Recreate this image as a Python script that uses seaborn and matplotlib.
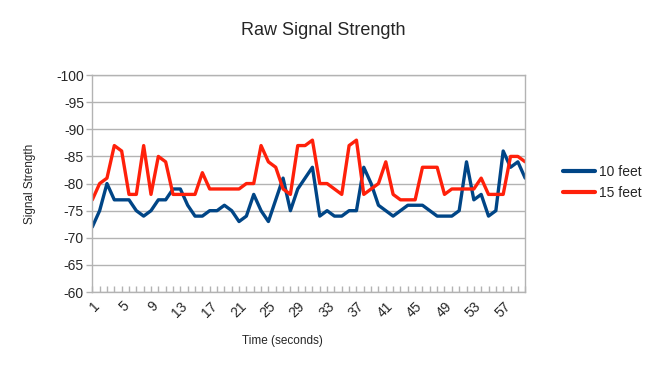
import matplotlib
matplotlib.use("Agg")
import matplotlib.pyplot as plt
import seaborn as sns
import pandas as pd
import numpy as np

time_s = list(range(1, 61))
feet10 = [-72, -75, -80, -77, -77, -77, -75, -74, -75, -77,
          -77, -79, -79, -76, -74, -74, -75, -75, -76, -75,
          -73, -74, -78, -75, -73, -77, -81, -75, -79, -81,
          -83, -74, -75, -74, -74, -75, -75, -83, -80, -76,
          -75, -74, -75, -76, -76, -76, -75, -74, -74, -74,
          -75, -84, -77, -78, -74, -75, -86, -83, -84, -81]
feet15 = [-77, -80, -81, -87, -86, -78, -78, -87, -78, -85,
          -84, -78, -78, -78, -78, -82, -79, -79, -79, -79,
          -79, -80, -80, -87, -84, -83, -79, -78, -87, -87,
          -88, -80, -80, -79, -78, -87, -88, -78, -79, -80,
          -84, -78, -77, -77, -77, -83, -83, -83, -78, -79,
          -79, -79, -79, -81, -78, -78, -78, -85, -85, -84]
series_names = ["10 feet", "15 feet"]
y_ticks = [-100, -95, -90, -85, -80, -75, -70, -65, -60]
x_tick_labels = list(range(1, 61, 4))

df = pd.DataFrame({
    "Time": time_s * 2,
    "Signal": feet10 + feet15,
    "Series": [series_names[0]] * 60 + [series_names[1]] * 60,
})

sns.set_style("white")
plt.rcParams["font.family"] = ["Liberation Sans", "DejaVu Sans"]

fig = plt.figure(figsize=(6.5, 3.66), dpi=100)
ax = fig.add_axes([0.142, 0.202, 0.666, 0.593])

palette = {"10 feet": "#004586", "15 feet": "#ff200a"}
sns.lineplot(data=df, x="Time", y="Signal", hue="Series", palette=palette,
             linewidth=2.4, ax=ax, legend=True)

ax.set_xlim(1, 60)
ax.set_ylim(-60, -100)
ax.set_yticks(y_ticks)
ax.set_yticklabels([str(v) for v in y_ticks], fontsize=10)
ax.yaxis.grid(True, color="#b3b3b3", linewidth=1)
ax.xaxis.grid(False)
ax.set_axisbelow(True)

ax.set_xticks(x_tick_labels)
ax.set_xticklabels([str(v) for v in x_tick_labels], rotation=45, ha="right",
                   va="top", rotation_mode="anchor", fontsize=10)
ax.set_xticks(time_s, minor=True)
ax.tick_params(axis="x", which="both", direction="in", length=4, width=1,
               color="#b3b3b3", bottom=True, pad=5)
ax.tick_params(axis="y", which="major", direction="out", length=4, width=1,
               color="#b3b3b3", left=True, pad=2)

for sp in ax.spines.values():
    sp.set_color("#b3b3b3")
    sp.set_linewidth(1)

ax.set_xlabel("Time (seconds)", fontsize=8.5)
ax.set_ylabel("Signal Strength", fontsize=8.5)
ax.xaxis.set_label_coords(0.44, -0.2)
ax.yaxis.set_label_coords(-0.13, 0.5)

fig.text(0.497, 0.918, "Raw Signal Strength", ha="center", va="center", fontsize=13)

handles, labels = ax.get_legend_handles_labels()
ax.legend_.remove()
fig.legend(handles, labels, loc="center left", bbox_to_anchor=(0.847, 0.501),
           frameon=False, fontsize=10, handlelength=2.3, handletextpad=0.3,
           labelspacing=0.5)
for h in fig.legends[0].legend_handles:
    h.set_linewidth(3)

fig.savefig("out.png", dpi=100)
